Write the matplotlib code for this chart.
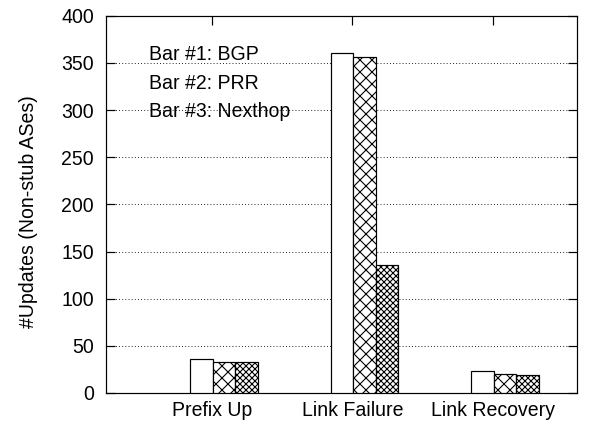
import matplotlib
import matplotlib.pyplot as plt
import numpy as np

matplotlib.use("Agg")

categories = ["Prefix Up", "Link Failure", "Link Recovery"]
bgp = [36, 360, 23]
prr = [33, 356, 20]
nexthop = [33, 136, 19]
legend_lines = ["Bar #1: BGP", "Bar #2: PRR", "Bar #3: Nexthop"]

plt.rcParams["font.family"] = ["Liberation Sans", "DejaVu Sans"]
plt.rcParams["hatch.linewidth"] = 1.1

fig = plt.figure(figsize=(591 / 72, 428 / 72), dpi=72)
ax = fig.add_axes([0.1794, 0.0818, 0.7969, 0.8815])

x = np.arange(len(categories))
width = 0.16
start = -0.154

series = [(bgp, ""), (prr, "xx"), (nexthop, "xxxx")]
for i, (vals, hatch) in enumerate(series):
    ax.bar(x + start + i * width, vals, width, align="edge",
           facecolor="white", edgecolor="black", linewidth=1.2,
           hatch=hatch, zorder=3)

ax.set_xlim(-0.751, 2.597)
ax.set_ylim(0, 400)
ax.set_yticks(np.arange(0, 401, 50))
ax.set_xticks(x)
ax.set_xticklabels(categories)

ax.tick_params(axis="both", labelsize=19.5, direction="in", length=9, width=1.2)
ax.tick_params(axis="x", bottom=False, top=True, pad=8)
ax.tick_params(axis="y", left=True, right=True, pad=12)

for y in range(50, 400, 50):
    ax.axhline(y, color="black", linestyle=(0, (1, 2.5)), linewidth=0.9, zorder=1)

for s in ax.spines.values():
    s.set_linewidth(1.2)

ax.set_ylabel("#Updates (Non-stub ASes)", fontsize=19.5)
ax.yaxis.set_label_coords(-0.145, 0.482)

for txt, yy in zip(legend_lines, [0.8826, 0.807, 0.7315]):
    ax.text(0.0913, yy, txt, transform=ax.transAxes, fontsize=19.5,
            ha="left", va="baseline", zorder=4)

plt.savefig("out.png", dpi=72)
plt.close()
